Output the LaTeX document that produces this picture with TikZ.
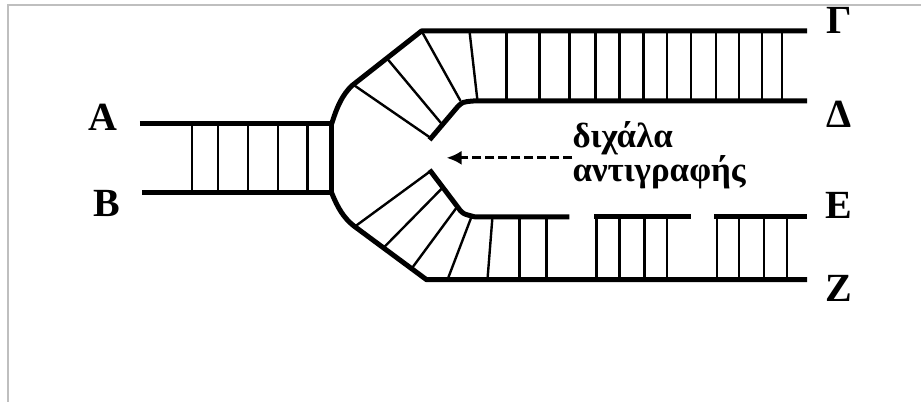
\documentclass[tikz,border=0pt]{standalone}
\usepackage{fontspec}
\setmainfont{Liberation Serif}
\usetikzlibrary{arrows.meta}

\begin{document}
\begin{tikzpicture}[x=1pt,y=-1pt,
        strand/.style={line width=5pt,line join=round},
        rung/.style={line width=2.4pt},
        letter/.style={font=\bfseries\fontsize{40}{40}\selectfont,inner sep=0pt},
        forklabel/.style={font=\bfseries\fontsize{35}{29}\selectfont,align=left,inner sep=0pt}]
        \def\top{31}
        \def\mid{101}
        \def\low{217}
        \def\bot{280}
        %% frame
        \fill[white] (0,0) rectangle (922,402);
        \draw[black!25,line width=2pt] (8,402) -- (8,5) -- (922,5);
        %% parent helix
        \draw[strand] (140,124) -- (332,124) -- (332,193) -- (142,193);
        \foreach \x in {192,218,248,278,308}
            \draw[rung] (\x,124) -- (\x,193);
        %% upper arm
        \draw[strand] (332,124) .. controls (338,105) and (343,95) .. (352,86) -- (422,\top) -- (808,\top);
        \draw[strand] (430,140) -- (458,107) .. controls (463,102) .. (475,\mid) -- (808,\mid);
        \draw[rung] (354,85) -- (431,138);
        \draw[rung] (387,58) -- (443,125);
        \draw[rung] (422,\top) -- (461,\mid);
        \draw[rung] (470,\top) -- (478,\mid);
        \foreach \x in {507,540,570,596,620,644,668,692,717,740,763,783}
            \draw[rung] (\x,\top) -- (\x,\mid);
        %% lower arm
        \draw[strand] (332,193) .. controls (338,208) and (344,218) .. (354,226) -- (427,\bot) -- (808,\bot);
        \draw[strand] (430,170) -- (458,207) .. controls (463,214) .. (475,\low) -- (570,\low);
        \draw[strand] (595,\low) -- (692,\low);
        \draw[strand] (715,\low) -- (808,\low);
        \draw[rung] (355,227) -- (430,172);
        \draw[rung] (384,248) -- (443,188);
        \draw[rung] (412,269) -- (457,208);
        \draw[rung] (448,\bot) -- (472,\low);
        \draw[rung] (488,\bot) -- (493,\low);
        \foreach \x in {520,547,597,620,645,668,718,740,765,788}
            \draw[rung] (\x,\low) -- (\x,\bot);
        %% labels
        \node[letter] (A) at (103,117) {A};
        \node[letter] (B) at (107,204) {B};
        \node[letter] (G) at (840,20) {Γ};
        \node[letter] (D) at (840,114) {Δ};
        \node[letter] (E) at (840,206) {E};
        \node[letter] (Z) at (840,289) {Z};
        \node[forklabel,anchor=base west] (fork) at (573,182) {διχάλα\\αντιγραφής};
        \coordinate (tip) at (447,158);
        \draw[line width=3pt,dash pattern=on 9pt off 4pt,-{Latex[length=15pt,width=14pt]}] (fork.west |- tip) -- (tip);
    \end{tikzpicture}
\end{document}
